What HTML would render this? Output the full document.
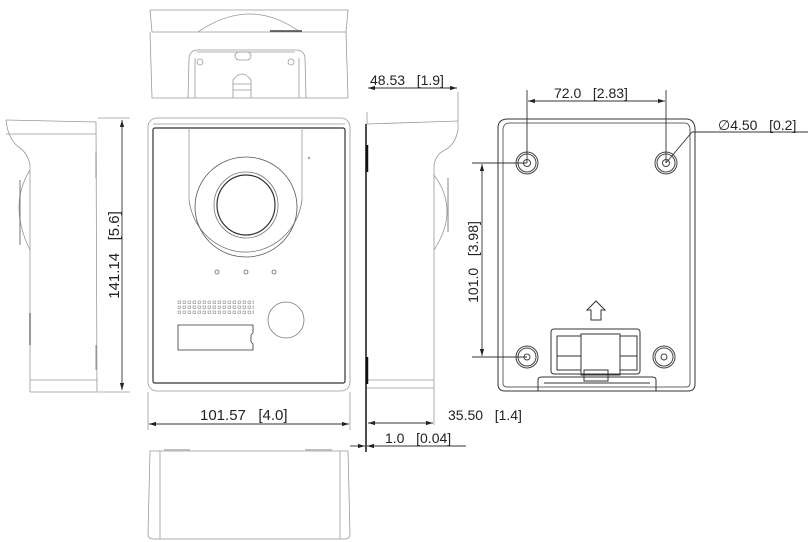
<!DOCTYPE html>
<html><head><meta charset="utf-8"><style>
html,body{margin:0;padding:0;background:#fff;}
svg{display:block;}
text{font-family:"Liberation Sans",sans-serif;font-size:14px;fill:#222;}
</style></head><body>
<svg width="809" height="542" viewBox="0 0 809 542" xmlns="http://www.w3.org/2000/svg">
<defs>
<marker id="a" viewBox="0 0 10 6" refX="10" refY="3" markerWidth="8" markerHeight="5" orient="auto-start-reverse"><path d="M0,0 L10,3 L0,6 z" fill="#222"/></marker>
<pattern id="dots" x="177" y="300" width="5" height="5" patternUnits="userSpaceOnUse"><rect x="1" y="1" width="2.5" height="2.5" fill="none" stroke="#888" stroke-width="0.6"/></pattern>
</defs>
<g fill="none" stroke="#999" stroke-width="0.8">
<!-- TOP VIEW -->
<path d="M150,10 L348,10 L346,32 L152,32 Z"/>
<path d="M150,32 L152,98 L348,98 L346,32"/>
<path d="M198,32 Q250,-4 300,32"/>
<line x1="270" y1="31" x2="302" y2="31" stroke="#444" stroke-width="1.5"/>
<path d="M188,98 L189,58 Q190,50 198,50 L296,50 Q304,50 305,58 L306,98"/>
<path d="M195,98 L195,58 M299,98 L299,58"/>
<line x1="197" y1="52" x2="295" y2="52"/>
<circle cx="200" cy="62" r="3"/><circle cx="291" cy="62" r="3"/>
<rect x="235" y="52" width="16" height="8" rx="4"/>
<path d="M233,98 L233,80 Q242,68 251,80 L251,98 M233,84 L251,84 M233,90 L251,90"/>
<!-- FRONT VIEW -->
<rect x="148" y="118" width="202" height="273" rx="9"/>
<rect x="153" y="128" width="192" height="255" rx="2" stroke="#333" stroke-width="1.2"/>
<path d="M153,124 L345,124"/>
<line x1="189" y1="128" x2="189" y2="200"/><line x1="302" y1="128" x2="302" y2="200"/>
<path d="M189,200 A57,60 0 0 0 302,200" stroke="#777"/>
<ellipse cx="246" cy="207" rx="51" ry="50" stroke="#555"/>
<ellipse cx="246" cy="205" rx="29" ry="30" stroke="#333" stroke-width="1.2"/>
<ellipse cx="246" cy="205" rx="32" ry="33" stroke="#777"/>
<circle cx="217" cy="272" r="2" stroke="#666"/><circle cx="246" cy="272" r="2" stroke="#666"/><circle cx="274" cy="272" r="2" stroke="#666"/>
<rect x="177" y="300" width="77" height="15" fill="url(#dots)" stroke="none"/>
<circle cx="286" cy="320" r="18" stroke="#777"/>
<path d="M178,325 L253,325 L253,333 L251,335 L251,342 L253,344 L253,350 L178,350 Z" stroke="#333"/>
<circle cx="309" cy="158" r="0.8"/>
<!-- LEFT SIDE VIEW -->
<path d="M6,120 L96,122 L97,392 L30,392"/>
<path d="M6,120 Q8,140 20,148 Q28,154 30,165 L30,392"/>
<path d="M30,170 Q8,205 30,250"/>
<line x1="20" y1="180" x2="20" y2="245" stroke="#555"/>
<line x1="30" y1="313" x2="30" y2="345" stroke="#777" stroke-width="1.5"/>
<line x1="96" y1="152" x2="96" y2="178" stroke="#777"/><line x1="96" y1="345" x2="96" y2="370" stroke="#777"/>
<line x1="30" y1="380" x2="97" y2="380"/>
<line x1="6" y1="134" x2="96" y2="134"/>
<!-- RIGHT SIDE VIEW -->
<path d="M367,124 L458,121 L458,130 Q455,145 445,150 Q436,154 434,165 L434,388 L367,388"/>
<path d="M434,175 Q460,210 434,250"/>
<line x1="448" y1="178" x2="448" y2="232" stroke="#666"/>
<line x1="367" y1="380" x2="434" y2="380"/>
<line x1="434" y1="388" x2="434" y2="425"/>
<line x1="367" y1="112" x2="367" y2="124"/>
<line x1="458" y1="92" x2="458" y2="121"/>
<!-- BOTTOM VIEW -->
<path d="M150,451 L348,451 L350,535 Q349,539 345,539 L153,539 Q149,539 148,535 Z"/>
<line x1="160" y1="451" x2="160" y2="539"/><line x1="340" y1="451" x2="340" y2="539"/>
<line x1="164" y1="450" x2="190" y2="450" stroke="#bbb" stroke-width="2"/><line x1="305" y1="450" x2="332" y2="450" stroke="#bbb" stroke-width="2"/>
<!-- extension lines -->
<line x1="148" y1="392" x2="148" y2="430"/><line x1="350" y1="392" x2="350" y2="430"/>
<line x1="98" y1="118" x2="130" y2="118"/><line x1="98" y1="392" x2="130" y2="392"/>
</g>
<g fill="none" stroke="#333" stroke-width="1">
<!-- back view -->
<path d="M508,119 L686,119 Q694,119 695,128 L695,384 Q695,391 688,391 L505,391 Q498,391 498,384 L498,128 Q498,119 508,119 Z"/>
<path d="M510,123 L684,123 Q690,123 690,130 L690,383 Q690,387 686,387 L507,387 Q503,387 503,383 L503,130 Q503,123 510,123 Z" stroke="#666"/>
<g stroke="#444">
<circle cx="527" cy="163" r="11"/><circle cx="527" cy="163" r="9"/><circle cx="527" cy="163" r="3.5"/>
<circle cx="666" cy="163" r="11"/><circle cx="666" cy="163" r="9"/><circle cx="666" cy="163" r="3.5"/>
<circle cx="527" cy="357" r="11"/><circle cx="527" cy="357" r="9"/><circle cx="527" cy="357" r="3"/>
<circle cx="664" cy="357" r="11"/><circle cx="664" cy="357" r="9"/><circle cx="664" cy="357" r="3"/>
</g>
<path d="M591,320 L591,310 L587,310 L596,301 L605,310 L601,310 L601,320 Z"/>
<rect x="551" y="329" width="89" height="45" rx="3"/>
<rect x="557" y="336" width="24" height="34"/><rect x="620" y="336" width="17" height="34"/>
<line x1="557" y1="356" x2="581" y2="356"/><line x1="620" y1="356" x2="637" y2="356"/>
<rect x="581" y="334" width="39" height="41"/>
<rect x="584" y="370" width="24" height="11"/>
<path d="M538,391 L538,380 Q538,377 542,377 L652,377 Q656,377 656,380 L656,391"/>
<line x1="544" y1="383" x2="650" y2="383"/>
<!-- thick left edge of right side view -->
<line x1="366" y1="124" x2="366" y2="452" stroke="#222" stroke-width="1.6"/>
<line x1="367" y1="145" x2="367" y2="172" stroke="#111" stroke-width="2.5"/>
<line x1="367" y1="357" x2="367" y2="384" stroke="#111" stroke-width="2.5"/>
</g>
<!-- DIMENSIONS -->
<g stroke="#333" stroke-width="0.9" fill="none">
<line x1="122" y1="120" x2="122" y2="390" marker-start="url(#a)" marker-end="url(#a)"/>
<line x1="149" y1="424" x2="349" y2="424" marker-start="url(#a)" marker-end="url(#a)"/>
<line x1="368" y1="88" x2="457" y2="88" marker-start="url(#a)" marker-end="url(#a)"/>
<line x1="368" y1="423" x2="433" y2="423" marker-start="url(#a)" marker-end="url(#a)"/>
<line x1="350" y1="446" x2="365" y2="446" marker-end="url(#a)"/>
<line x1="385" y1="446" x2="367" y2="446" marker-end="url(#a)"/>
<line x1="385" y1="446" x2="466" y2="446"/>
<line x1="527" y1="90" x2="527" y2="163"/><line x1="666" y1="90" x2="666" y2="163"/>
<line x1="528" y1="101" x2="665" y2="101" marker-start="url(#a)" marker-end="url(#a)"/>
<line x1="666" y1="163" x2="692" y2="132"/><line x1="692" y1="132" x2="808" y2="132"/>
<line x1="472" y1="163" x2="527" y2="163"/><line x1="472" y1="357" x2="527" y2="357"/>
<line x1="482" y1="164" x2="482" y2="356" marker-start="url(#a)" marker-end="url(#a)"/>
</g>
<text x="200" y="420" style="font-size:15px">101.57&#160;&#160;&#160;[4.0]</text>
<text transform="translate(119,255) rotate(-90)" text-anchor="middle" style="font-size:15px">141.14&#160;&#160;&#160;[5.6]</text>
<text x="370" y="85">48.53&#160;&#160;&#160;[1.9]</text>
<text x="448" y="420">35.50&#160;&#160;&#160;[1.4]</text>
<text x="385" y="443">1.0&#160;&#160;&#160;[0.04]</text>
<text x="554" y="98">72.0&#160;&#160;&#160;[2.83]</text>
<text x="718" y="130">&#8709;4.50&#160;&#160;&#160;[0.2]</text>
<text transform="translate(478,262) rotate(-90)" text-anchor="middle">101.0&#160;&#160;&#160;[3.98]</text>
</svg>
</body></html>
